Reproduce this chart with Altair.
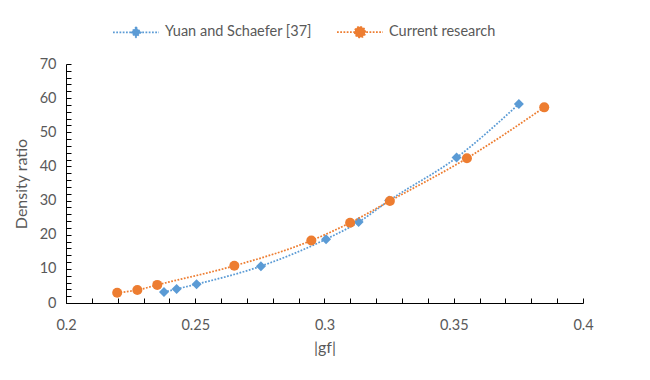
import altair as alt
import pandas as pd

series_names = ["Yuan and Schaefer [37]", "Current research"]
colors = ["#5B9BD5", "#ED7D31"]

yuan_x = [0.2379, 0.2428, 0.2505, 0.2754, 0.3006, 0.3132, 0.3250, 0.3511, 0.3752]
yuan_y = [3.2, 4.1, 5.5, 10.8, 18.7, 23.7, 30.0, 42.6, 58.3]
cur_x = [0.2198, 0.2276, 0.2353, 0.2651, 0.2949, 0.3099, 0.3253, 0.3551, 0.3850]
cur_y = [3.0, 3.8, 5.3, 10.9, 18.3, 23.5, 29.9, 42.4, 57.3]

x_ticks = [round(0.2 + 0.01 * i, 2) for i in range(21)]
y_ticks = list(range(0, 71, 2))

df = pd.DataFrame({
    "gf": yuan_x + cur_x,
    "ratio": yuan_y + cur_y,
    "series": [series_names[0]] * len(yuan_x) + [series_names[1]] * len(cur_x),
})

FONT = "Lato"
GREY = "#595959"

circle_path = "M-1,0H1M-0.23,0A0.23,0.23 0 1,0 0.23,0A0.23,0.23 0 1,0 -0.23,0Z"
diamond_path = "M-1,0H1M0,-0.21L0.21,0L0,0.21L-0.21,0Z"

legend = alt.Legend(
    title=None,
    orient="none",
    legendX=46,
    legendY=-56,
    padding=0,
    direction="horizontal",
    symbolSize=2116,
    symbolStrokeWidth=1.75,
    symbolDash=[1.75, 1.5],
    symbolOpacity=1,
    labelFont=FONT,
    labelFontSize=14.5,
    labelColor=GREY,
    labelOffset=5,
    columnPadding=21,
)

x_enc = alt.X(
    "gf:Q",
    scale=alt.Scale(domain=[0.2, 0.4], nice=False, zero=False),
    axis=alt.Axis(
        title="|gf|",
        values=x_ticks,
        labelExpr="round(datum.value*100) % 5 == 0 ? '' + round(datum.value*100)/100 : ''",
        tickSize=alt.ExprRef(expr="-5"),
        labelFlush=False,
        labelOverlap=False,
        labelPadding=20,
        titlePadding=8,
    ),
)
y_enc = alt.Y(
    "ratio:Q",
    scale=alt.Scale(domain=[0, 70], nice=False),
    axis=alt.Axis(
        title="Density ratio",
        values=y_ticks,
        format="d",
        labelExpr="datum.value % 10 == 0 ? datum.label : ''",
        tickSize=alt.ExprRef(expr="-5"),
        labelFlush=False,
        labelOverlap=False,
        labelPadding=15,
        titlePadding=10,
    ),
)

base = alt.Chart(df).encode(x=x_enc, y=y_enc)

layers = []
shapes = ["diamond", "circle"]
sizes = [100, 100]
for name, shp, sz, col in zip(series_names, shapes, sizes, colors):
    sub = base.transform_filter(alt.datum.series == name)
    layers.append(sub.mark_line(interpolate="monotone", strokeDash=[1.75, 1.5], strokeWidth=1.75, color=col))
    layers.append(sub.mark_point(shape=shp, filled=True, size=sz, opacity=1, color=col))

# layer that only drives the legend (line + marker symbols)
legend_layer = base.mark_point(filled=True, size=0).encode(
    fill=alt.Fill("series:N", scale=alt.Scale(domain=series_names, range=colors), legend=legend),
    stroke=alt.Stroke("series:N", scale=alt.Scale(domain=series_names, range=colors), legend=legend),
    shape=alt.Shape("series:N", scale=alt.Scale(domain=series_names, range=[diamond_path, circle_path]), legend=legend),
)
layers.append(legend_layer)

chart = alt.layer(*layers).properties(
    width=517,
    height=239,
    autosize=alt.AutoSizeParams(type="none"),
    padding={"left": 58, "top": 56, "right": 59, "bottom": 69},
).configure_view(stroke=None).configure_axis(
    grid=False,
    domainColor="#000000",
    domainWidth=1,
    tickColor="#000000",
    tickWidth=1,
    labelFont=FONT,
    labelFontSize=14.5,
    labelColor=GREY,
    titleFont=FONT,
    titleFontSize=16,
    titleFontWeight="normal",
    titleColor=GREY,
)

chart.save("out.html", embed_options={"renderer": "svg", "actions": False})
